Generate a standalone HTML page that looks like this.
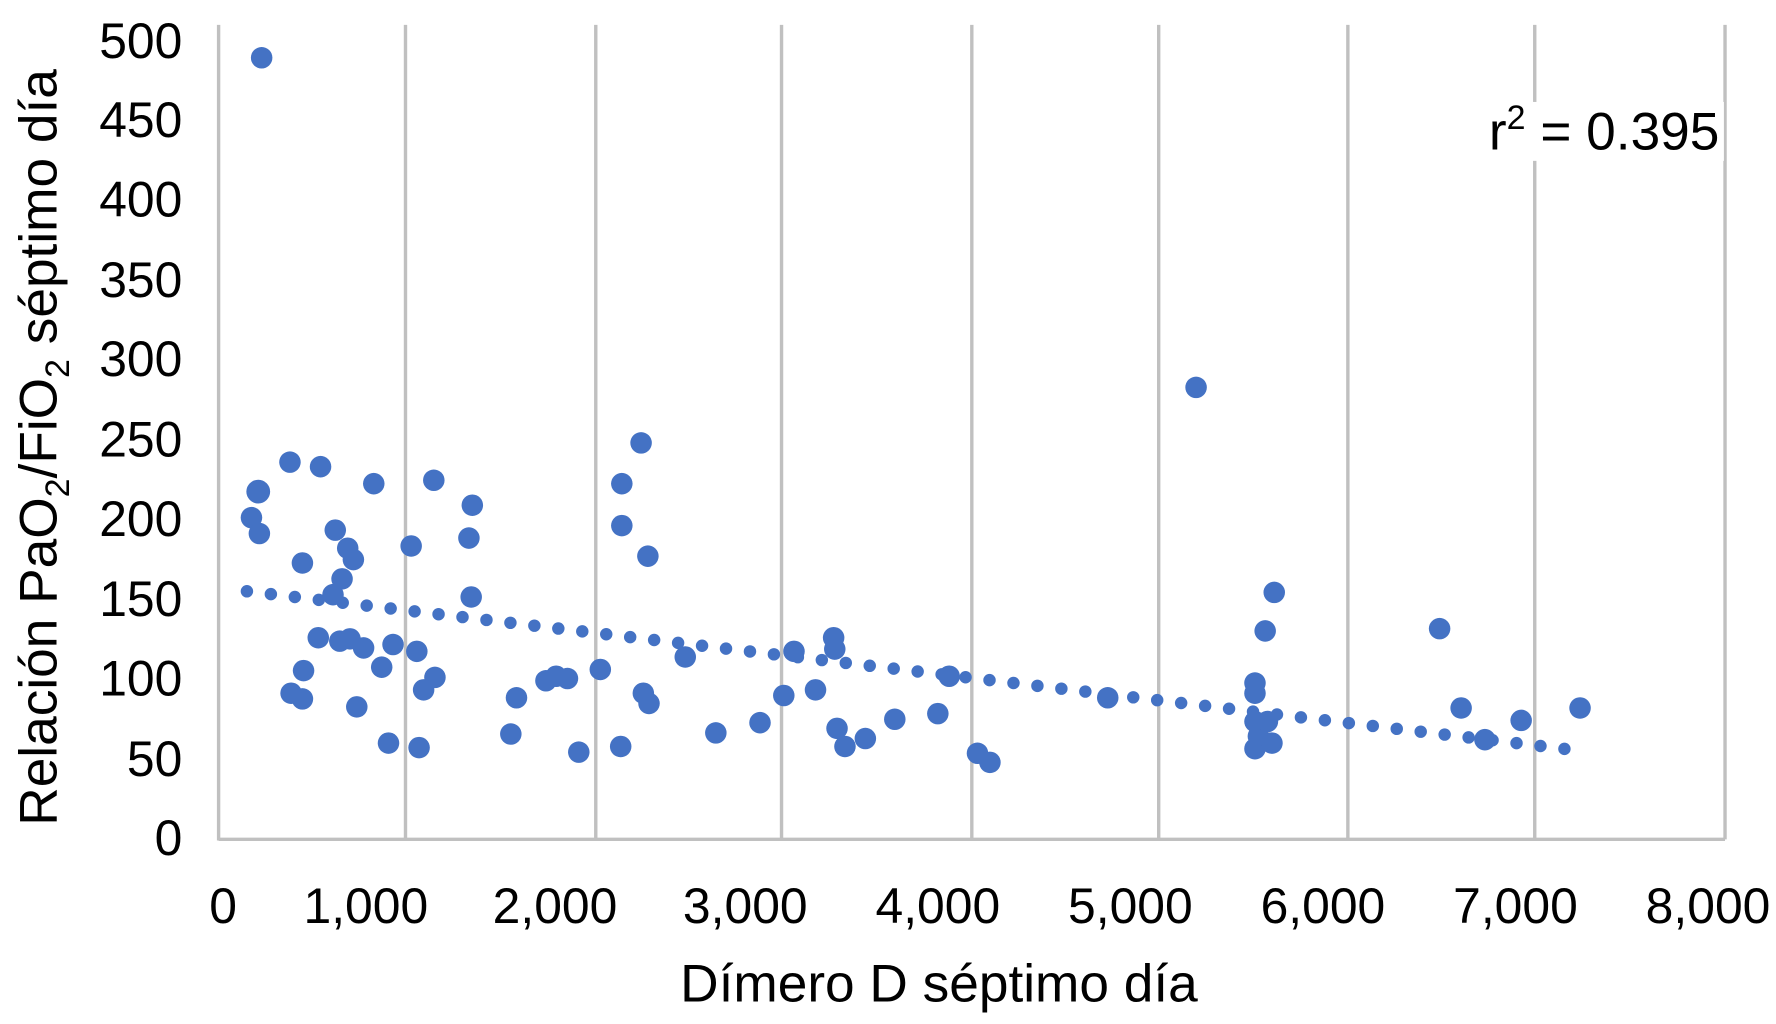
<!DOCTYPE html>
<html><head><meta charset="utf-8"><style>html,body{margin:0;padding:0;background:#fff;width:1776px;height:1024px;overflow:hidden}svg{display:block}</style></head>
<body>
<svg width="1776" height="1024" viewBox="0 0 1568 904" preserveAspectRatio="none" xmlns="http://www.w3.org/2000/svg" font-family="Liberation Sans, Arial, sans-serif">
<g stroke="#c0c0c0" stroke-width="3">
<line x1="358" y1="22" x2="358" y2="741"/><line x1="526" y1="22" x2="526" y2="741"/><line x1="690" y1="22" x2="690" y2="741"/><line x1="858" y1="22" x2="858" y2="741"/><line x1="1023" y1="22" x2="1023" y2="741"/><line x1="1190" y1="22" x2="1190" y2="741"/><line x1="1355" y1="22" x2="1355" y2="741"/><line x1="1523" y1="22" x2="1523" y2="741"/>
<line x1="193" y1="22" x2="193" y2="742"/><line x1="193" y1="741" x2="1523" y2="741"/>
</g>
<rect x="1308" y="90" width="214" height="52" fill="#fff"/>
<g font-size="44" fill="#000" text-anchor="end">
<text x="161" y="51">500</text><text x="161" y="121">450</text><text x="161" y="191">400</text><text x="161" y="262">350</text><text x="161" y="332">300</text><text x="161" y="403">250</text><text x="161" y="473">200</text><text x="161" y="544">150</text><text x="161" y="614">100</text><text x="161" y="685">50</text><text x="161" y="755">0</text>
</g>
<g font-size="44" fill="#000" text-anchor="middle">
<text x="197" y="815">0</text><text x="323" y="815">1,000</text><text x="490" y="815">2,000</text><text x="658" y="815">3,000</text><text x="828" y="815">4,000</text><text x="998" y="815">5,000</text><text x="1168" y="815">6,000</text><text x="1338" y="815">7,000</text><text x="1508" y="815">8,000</text>
<text x="829" y="884" font-size="47">Dímero D séptimo día</text>
</g>
<text x="1518" y="132" font-size="47" text-anchor="end">r<tspan font-size="30" dy="-18">2</tspan><tspan dy="18"> = 0.395</tspan></text>
<text transform="translate(50,395) rotate(-90)" font-size="47" text-anchor="middle">Relación PaO<tspan font-size="30" dy="11">2</tspan><tspan dy="-11">/FiO</tspan><tspan font-size="30" dy="11">2</tspan><tspan dy="-11"> séptimo día</tspan></text>
<line x1="218" y1="522" x2="1397" y2="663" stroke="#4472c4" stroke-width="11" stroke-linecap="round" stroke-dasharray="0 21.3"/>
<g fill="#4472c4">
<circle cx="231" cy="51" r="9.5"/><circle cx="228" cy="434" r="10.5"/><circle cx="222" cy="457" r="9.5"/><circle cx="229" cy="471" r="9.5"/><circle cx="256" cy="408" r="9.5"/><circle cx="283" cy="412" r="9.5"/><circle cx="330" cy="427" r="9.5"/><circle cx="383" cy="424" r="9.5"/><circle cx="417" cy="446" r="9.5"/><circle cx="414" cy="475" r="9.5"/><circle cx="363" cy="482" r="9.5"/><circle cx="296" cy="468" r="9.5"/><circle cx="307" cy="484" r="9.5"/><circle cx="312" cy="494" r="9.5"/><circle cx="267" cy="497" r="9.5"/><circle cx="302" cy="511" r="9.5"/><circle cx="294" cy="525" r="9.5"/><circle cx="416" cy="527" r="9.5"/><circle cx="566" cy="391" r="9.5"/><circle cx="549" cy="427" r="9.5"/><circle cx="549" cy="464" r="9.5"/><circle cx="572" cy="491" r="9.5"/><circle cx="1056" cy="342" r="9.5"/><circle cx="1125" cy="523" r="9.5"/><circle cx="1117" cy="557" r="9.5"/><circle cx="1271" cy="555" r="9.5"/><circle cx="281" cy="563" r="9.5"/><circle cx="300" cy="566" r="9.5"/><circle cx="309" cy="564" r="9.5"/><circle cx="321" cy="572" r="9.5"/><circle cx="347" cy="569" r="9.5"/><circle cx="368" cy="575" r="9.5"/><circle cx="337" cy="589" r="9.5"/><circle cx="268" cy="592" r="9.5"/><circle cx="384" cy="598" r="9.5"/><circle cx="257" cy="612" r="9.5"/><circle cx="267" cy="617" r="9.5"/><circle cx="374" cy="609" r="9.5"/><circle cx="315" cy="624" r="9.5"/><circle cx="343" cy="656" r="9.5"/><circle cx="370" cy="660" r="9.5"/><circle cx="456" cy="616" r="9.5"/><circle cx="451" cy="648" r="9.5"/><circle cx="482" cy="601" r="9.5"/><circle cx="491" cy="597" r="9.5"/><circle cx="501" cy="599" r="9.5"/><circle cx="530" cy="591" r="9.5"/><circle cx="568" cy="612" r="9.5"/><circle cx="573" cy="621" r="9.5"/><circle cx="548" cy="659" r="9.5"/><circle cx="511" cy="664" r="9.5"/><circle cx="605" cy="580" r="9.5"/><circle cx="632" cy="647" r="9.5"/><circle cx="671" cy="638" r="9.5"/><circle cx="692" cy="614" r="9.5"/><circle cx="701" cy="575" r="9.5"/><circle cx="720" cy="609" r="9.5"/><circle cx="736" cy="563" r="9.5"/><circle cx="737" cy="573" r="9.5"/><circle cx="739" cy="643" r="9.5"/><circle cx="746" cy="659" r="9.5"/><circle cx="764" cy="652" r="9.5"/><circle cx="790" cy="635" r="9.5"/><circle cx="828" cy="630" r="9.5"/><circle cx="838" cy="597" r="9.5"/><circle cx="863" cy="665" r="9.5"/><circle cx="874" cy="673" r="9.5"/><circle cx="978" cy="616" r="9.5"/><circle cx="1108" cy="603" r="9.5"/><circle cx="1108" cy="612" r="9.5"/><circle cx="1108" cy="637" r="9.5"/><circle cx="1111" cy="650" r="9.5"/><circle cx="1119" cy="637" r="9.5"/><circle cx="1108" cy="661" r="9.5"/><circle cx="1123" cy="656" r="9.5"/><circle cx="1290" cy="625" r="9.5"/><circle cx="1311" cy="653" r="9.5"/><circle cx="1343" cy="636" r="9.5"/><circle cx="1395" cy="625" r="9.5"/>
</g>
</svg>
</body></html>
